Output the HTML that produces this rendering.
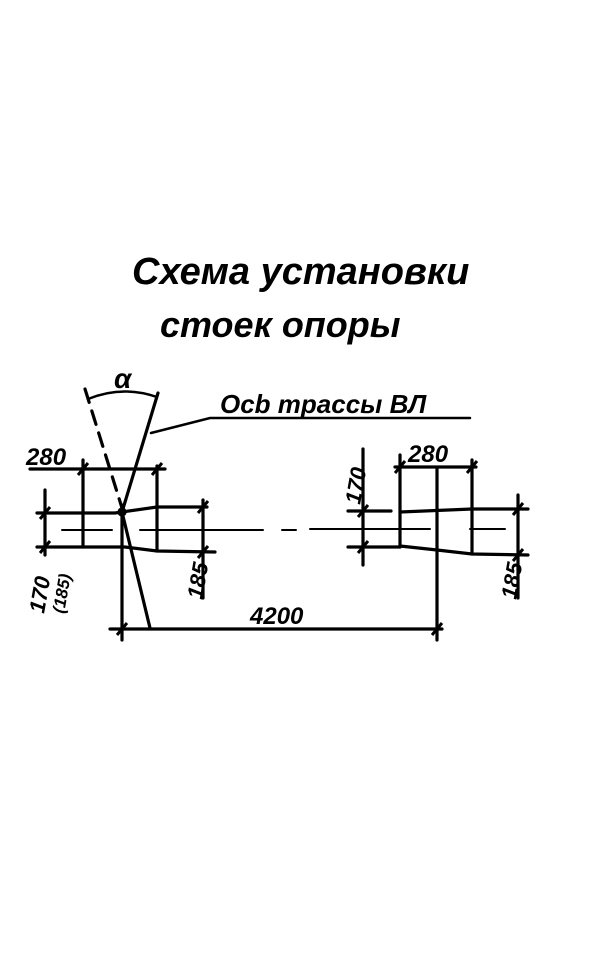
<!DOCTYPE html>
<html><head><meta charset="utf-8"><style>
html,body{margin:0;padding:0;background:#fff}
svg{display:block}
text{font-family:"Liberation Sans",sans-serif;font-style:italic;font-weight:bold;fill:#000}
</style></head><body>
<svg width="600" height="973" viewBox="0 0 600 973" xmlns="http://www.w3.org/2000/svg">
<g stroke="#000" stroke-width="3.2" fill="none" stroke-linecap="round">
<polyline points="37,513 115,513 157,507 207,507"/>
<polyline points="37,547 125,547 157,551 215,552"/>
<line x1="45" y1="490" x2="45" y2="555"/>
<line x1="83" y1="460" x2="83" y2="547"/>
<line x1="157" y1="466" x2="157" y2="551"/>
<line x1="203" y1="500" x2="203" y2="598"/>
<line x1="30" y1="469" x2="165" y2="469"/>
<line x1="62" y1="530" x2="112" y2="530" stroke-width="2"/>
<line x1="140" y1="530" x2="263" y2="530" stroke-width="2"/>
<line x1="282" y1="530" x2="296" y2="530" stroke-width="2"/>
<line x1="85" y1="389" x2="122" y2="508" stroke-dasharray="14,9"/>
<line x1="158" y1="393" x2="122" y2="512"/>
<line x1="122" y1="512" x2="150" y2="628"/>
<line x1="122" y1="505" x2="122" y2="640"/>
<line x1="110" y1="629" x2="442" y2="629"/>
<polyline points="151,433 210,418 470,418" stroke-width="2.5"/>
<path d="M88,399 Q122,385 157,397" stroke-width="2.5"/>
<line x1="363" y1="449" x2="363" y2="565"/>
<line x1="348" y1="511" x2="391" y2="511"/>
<line x1="348" y1="547" x2="400" y2="547"/>
<line x1="395" y1="467" x2="476" y2="467"/>
<line x1="400" y1="455" x2="400" y2="547"/>
<line x1="437" y1="468" x2="437" y2="640"/>
<line x1="472" y1="460" x2="472" y2="554"/>
<polyline points="400,512 472,509 528,509"/>
<polyline points="400,546 437,550 472,554 528,555"/>
<line x1="518" y1="495" x2="518" y2="598"/>
<line x1="310" y1="529" x2="430" y2="529" stroke-width="2"/>
<line x1="470" y1="529" x2="505" y2="529" stroke-width="2"/>
<circle cx="122" cy="512" r="3" fill="#000"/>
</g>
<g stroke="#000" stroke-width="3">
<line x1="78" y1="475" x2="88" y2="463"/><line x1="152" y1="475" x2="162" y2="463"/>
<line x1="40" y1="519" x2="50" y2="507"/><line x1="40" y1="553" x2="50" y2="541"/>
<line x1="198" y1="513" x2="208" y2="501"/><line x1="198" y1="558" x2="208" y2="546"/>
<line x1="117" y1="635" x2="127" y2="623"/><line x1="432" y1="635" x2="442" y2="623"/>
<line x1="358" y1="517" x2="368" y2="505"/><line x1="358" y1="553" x2="368" y2="541"/>
<line x1="395" y1="473" x2="405" y2="461"/><line x1="467" y1="473" x2="477" y2="461"/>
<line x1="513" y1="515" x2="523" y2="503"/><line x1="513" y1="561" x2="523" y2="549"/>
</g>
<text x="132" y="284" font-size="38">Схема установки</text>
<text x="160" y="337" font-size="36">стоек опоры</text>
<text x="220" y="413" font-size="26">Осb трассы ВЛ</text>
<text x="114" y="388" font-size="28">α</text>
<text x="26" y="465" font-size="24">280</text>
<text x="408" y="462" font-size="24">280</text>
<text x="250" y="624" font-size="24">4200</text>
<text transform="translate(44,614) rotate(-80)" font-size="22">170</text>
<text transform="translate(64,614) rotate(-80)" font-size="17">(185)</text>
<text transform="translate(202,600) rotate(-80)" font-size="22">185</text>
<text transform="translate(360,505) rotate(-80)" font-size="22">170</text>
<text transform="translate(516,600) rotate(-80)" font-size="22">185</text>
</svg>
</body></html>
